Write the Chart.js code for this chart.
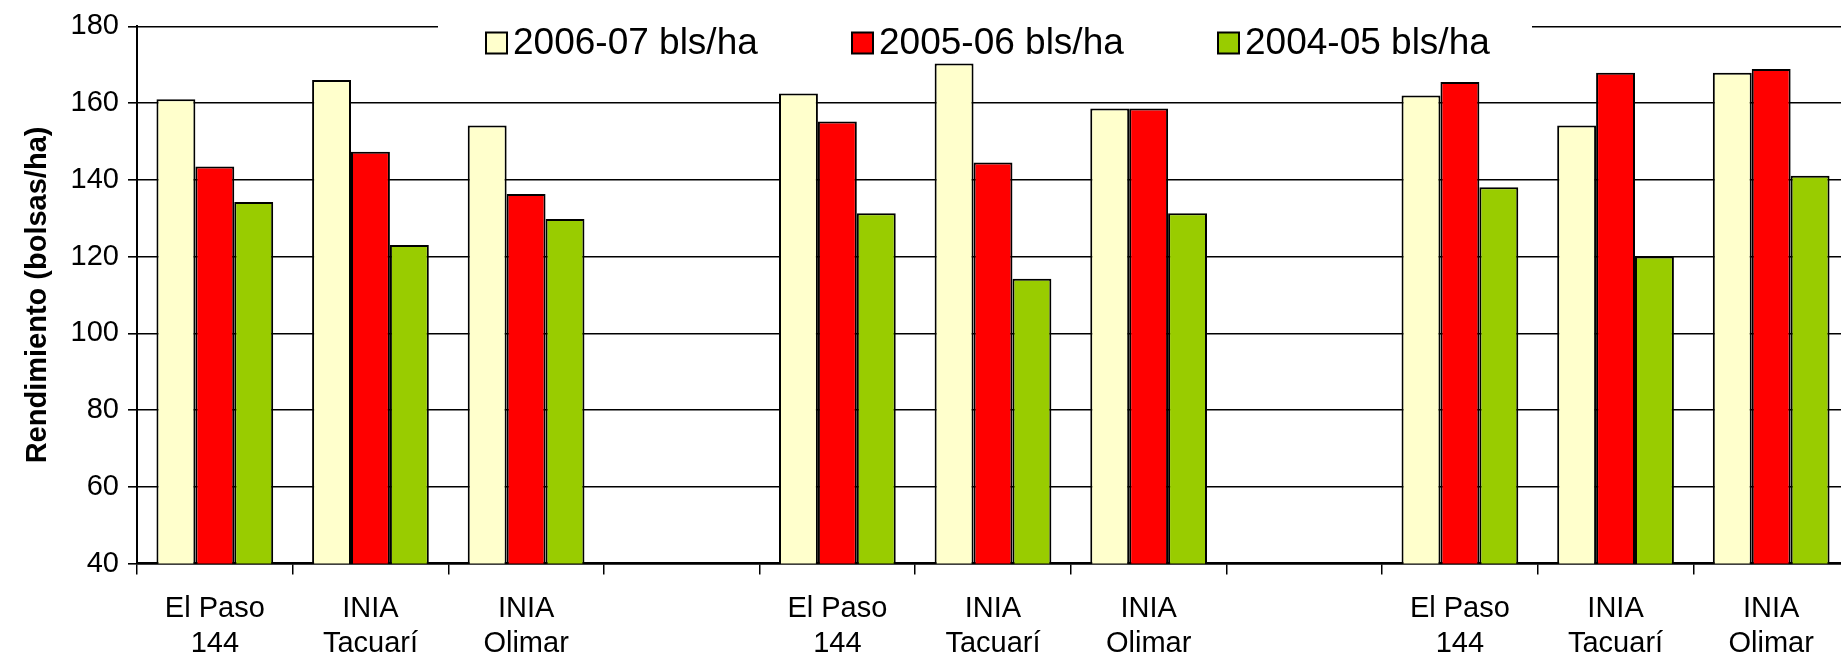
<!DOCTYPE html>
<html>
<head>
<meta charset="utf-8">
<script src="https://cdn.jsdelivr.net/npm/chart.js@4.4.1/dist/chart.umd.min.js"></script>
<style>
  html, body { margin: 0; padding: 0; background: #fff; overflow: hidden; }
  #wrap { width: 1864px; height: 656px; }
</style>
</head>
<body>
<div id="wrap"><canvas id="rendChart" width="1864" height="656"></canvas></div>
<script>
// ===================
// Datos
// ===================
const variedades = [
  ["El Paso", "144"], ["INIA", "Tacuarí"], ["INIA", "Olimar"], "",
  ["El Paso", "144"], ["INIA", "Tacuarí"], ["INIA", "Olimar"], "",
  ["El Paso", "144"], ["INIA", "Tacuarí"], ["INIA", "Olimar"],
];
const zafra0607 = [161, 166, 154.2, null, 162.5, 170.3, 158.6, null, 162, 154.2, 167.9];
const zafra0506 = [143.5, 147.3, 136.3, null, 155.2, 144.5, 158.6, null, 165.5, 167.9, 168.9];
const zafra0405 = [134.2, 123, 129.8, null, 131.3, 114.2, 131.3, null, 138.1, 120, 141.1];
const nombres = ["2006-07 bls/ha", "2005-06 bls/ha", "2004-05 bls/ha"];
const colores = ["#FFFFCC", "#FF0000", "#99CC00"];

const fuente = "'Liberation Sans', Arial, sans-serif";
Chart.defaults.color = "#000";
Chart.defaults.font.family = fuente;

// leyenda dibujada encima del area del grafico (con fondo blanco)
const leyendaEncima = {
  id: "leyendaEncima",
  afterDraw(chart, args, opts) {
    const ctx = chart.ctx;
    ctx.save();
    ctx.fillStyle = "#fff";
    ctx.fillRect(opts.fondoX, chart.chartArea.top - 6, opts.fondoW, 14);
    ctx.font = opts.size + "px " + fuente;
    ctx.textBaseline = "middle";
    chart.data.datasets.forEach((ds, i) => {
      const x = opts.x + i * opts.paso;
      ctx.fillStyle = ds.backgroundColor;
      ctx.fillRect(x, opts.y - opts.caja / 2, opts.caja, opts.caja);
      ctx.lineWidth = 2;
      ctx.strokeStyle = "#000";
      ctx.strokeRect(x, opts.y - opts.caja / 2, opts.caja, opts.caja);
      ctx.fillStyle = "#000";
      ctx.fillText(ds.label, x + opts.caja + 6, opts.y + 1);
    });
    ctx.restore();
  },
};

new Chart(document.getElementById("rendChart"), {
  type: "bar",
  data: {
    labels: variedades,
    datasets: [zafra0607, zafra0506, zafra0405].map((serie, i) => ({
      label: nombres[i],
      data: serie,
      backgroundColor: colores[i],
      borderColor: "#000",
      borderWidth: 2,
      borderSkipped: "bottom",
      barPercentage: 1,
      categoryPercentage: 0.75,
    })),
  },
  options: {
    responsive: false,
    animation: false,
    layout: { padding: { top: 21.5, right: 15, bottom: 0, left: 0 } },
    plugins: {
      legend: { display: false },
      tooltip: { enabled: false },
      leyendaEncima: { x: 486, paso: 366, y: 43, caja: 21, size: 37, fondoX: 438, fondoW: 1094 },
    },
    scales: {
      x: {
        grid: { display: true, drawOnChartArea: false, offset: true, color: "#000", tickLength: 11, lineWidth: 1.5 },
        border: { color: "#000", width: 2.5 },
        ticks: { font: { size: 29, lineHeight: 1.2 }, padding: 17, maxRotation: 0, autoSkip: false },
        afterFit(scale) { scale.height = 92.5; },
      },
      y: {
        min: 40,
        max: 180,
        ticks: { stepSize: 20, font: { size: 29 }, padding: 9 },
        grid: { color: "#000", lineWidth: 1.6, tickLength: 9 },
        border: { color: "#000", width: 2 },
        title: {
          display: true,
          text: "Rendimiento (bolsas/ha)",
          font: { size: 29, weight: "bold" },
          padding: { top: 21, bottom: 0 },
        },
        afterFit(scale) { scale.width = 137; },
      },
    },
  },
  plugins: [leyendaEncima],
});
</script>
</body>
</html>
